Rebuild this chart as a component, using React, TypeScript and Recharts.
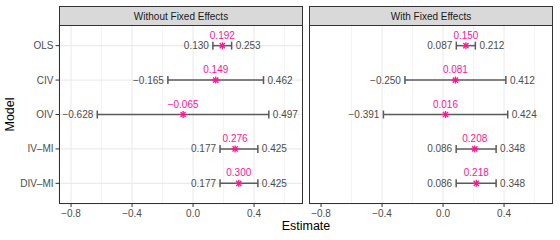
import React from 'react';
import { ScatterChart, Scatter, XAxis, YAxis, CartesianGrid, ErrorBar, ReferenceLine } from 'recharts';

const models = ['OLS', 'CIV', 'OIV', 'IV–MI', 'DIV–MI'];

const estNoFE = [0.192, 0.149, -0.065, 0.276, 0.3];
const lowNoFE = [0.13, -0.165, -0.628, 0.177, 0.177];
const highNoFE = [0.253, 0.462, 0.497, 0.425, 0.425];

const estFE = [0.15, 0.081, 0.016, 0.208, 0.218];
const lowFE = [0.087, -0.25, -0.391, 0.086, 0.086];
const highFE = [0.212, 0.412, 0.424, 0.348, 0.348];

const xTicks = [-0.8, -0.4, 0, 0.4];
const xMinor = [-0.6, -0.2, 0.2, 0.6];
const yTicks = [1, 2, 3, 4, 5];

const FONT = '"Liberation Sans", Arial, Helvetica, sans-serif';
const PINK = '#ff1493';
const BAR = '#5a5a5a';
const TXT = '#4d4d4d';
const FS = 10;

// layout (px)
const STRIP_TOP = 6;
const PANEL_TOP = 25;
const PANEL_BOTTOM = 204;
const LEFT_X = 59;
const RIGHT_X = 309;
const PANEL_W = 244;

const fmt = (v: number, d = 3) => v.toFixed(d).replace('-', '−');

const Asterisk = (props: any) => {
  const { cx, cy } = props;
  const r = 3.5;
  const d = 2.6;
  return (
    <g stroke={PINK} strokeWidth={1.3}>
      <line x1={cx - r} y1={cy} x2={cx + r} y2={cy} />
      <line x1={cx} y1={cy - r} x2={cx} y2={cy + r} />
      <line x1={cx - d} y1={cy - d} x2={cx + d} y2={cy + d} />
      <line x1={cx - d} y1={cy + d} x2={cx + d} y2={cy - d} />
      <text x={cx} y={cy - 7} textAnchor="middle" fill={PINK} stroke="none" fontSize={FS} fontFamily={FONT}>
        {fmt(props.payload.x)}
      </text>
    </g>
  );
};

const LowLabel = (props: any) => (
  <text x={props.cx - 4} y={props.cy} dy="0.35em" textAnchor="end" fill={TXT} fontSize={FS} fontFamily={FONT}>
    {fmt(props.payload.x)}
  </text>
);

const HighLabel = (props: any) => (
  <text x={props.cx + 4} y={props.cy} dy="0.35em" textAnchor="start" fill={TXT} fontSize={FS} fontFamily={FONT}>
    {fmt(props.payload.x)}
  </text>
);

const Panel = ({ est, low, high, showY }: { est: number[]; low: number[]; high: number[]; showY: boolean }) => {
  const estPts = est.map((v, i) => ({ x: v, y: i + 1, err: [v - low[i], high[i] - v] }));
  const lowPts = low.map((v, i) => ({ x: v, y: i + 1 }));
  const highPts = high.map((v, i) => ({ x: v, y: i + 1 }));
  return (
    <ScatterChart
      width={showY ? LEFT_X + PANEL_W : PANEL_W}
      height={240}
      margin={{ top: PANEL_TOP, right: 0, bottom: 0, left: 0 }}
    >
      <CartesianGrid stroke="#ebebeb" strokeWidth={1.1} />
      {xMinor.map((m) => (
        <ReferenceLine key={m} x={m} stroke="#ebebeb" strokeWidth={0.6} />
      ))}
      <XAxis
        type="number"
        dataKey="x"
        domain={[-0.879, 0.721]}
        allowDataOverflow
        ticks={xTicks}
        tickFormatter={(v: number) => fmt(v, 1)}
        height={240 - PANEL_BOTTOM}
        axisLine={false}
        tickLine={{ stroke: '#333' }}
        tickSize={3}
        tickMargin={2.5}
        tick={{ fill: TXT, fontSize: FS, fontFamily: FONT }}
      />
      <YAxis
        type="number"
        dataKey="y"
        domain={[0.4, 5.6]}
        reversed
        ticks={yTicks}
        interval={0}
        tickFormatter={(v: number) => models[v - 1] ?? ''}
        width={showY ? LEFT_X : 0}
        axisLine={false}
        tickLine={showY ? { stroke: '#333' } : false}
        tick={showY ? { fill: TXT, fontSize: FS, fontFamily: FONT } : false}
        tickSize={3.5}
        tickMargin={2}
      />
      <Scatter data={lowPts} shape={LowLabel} isAnimationActive={false} />
      <Scatter data={highPts} shape={HighLabel} isAnimationActive={false} />
      <Scatter data={estPts} shape={Asterisk} isAnimationActive={false}>
        <ErrorBar dataKey="err" direction="x" width={4} stroke={BAR} strokeWidth={1.5} />
      </Scatter>
    </ScatterChart>
  );
};

export default function App() {
  const stripH = PANEL_TOP - STRIP_TOP;
  const panelH = PANEL_BOTTOM - PANEL_TOP;
  return (
    <div style={{ position: 'absolute', left: 0, top: 0, width: 560, height: 240, background: '#fff', overflow: 'hidden' }}>
      <div style={{ position: 'absolute', left: 0, top: 0 }}>
        <Panel est={estNoFE} low={lowNoFE} high={highNoFE} showY />
      </div>
      <div style={{ position: 'absolute', left: RIGHT_X, top: 0 }}>
        <Panel est={estFE} low={lowFE} high={highFE} showY={false} />
      </div>
      <svg width={560} height={240} style={{ position: 'absolute', left: 0, top: 0, pointerEvents: 'none' }}>
        {[LEFT_X, RIGHT_X].map((x, i) => (
          <g key={x}>
            <rect x={x + 0.5} y={STRIP_TOP + 0.5} width={PANEL_W - 1} height={stripH} fill="#d9d9d9" stroke="#333" strokeWidth={1} />
            <text x={x + PANEL_W / 2} y={STRIP_TOP + stripH / 2 + 0.5} dy="0.35em" textAnchor="middle" fill="#1a1a1a" fontSize={FS} fontFamily={FONT}>
              {i === 0 ? 'Without Fixed Effects' : 'With Fixed Effects'}
            </text>
            <rect x={x + 0.5} y={PANEL_TOP + 0.5} width={PANEL_W - 1} height={panelH - 1} fill="none" stroke="#333" strokeWidth={1} />
          </g>
        ))}
        <text x={(LEFT_X + RIGHT_X + PANEL_W) / 2} y={226} dy="0.35em" textAnchor="middle" fill="#000" fontSize={12.5} fontFamily={FONT}>
          Estimate
        </text>
        <text
          transform={`translate(10, ${(PANEL_TOP + PANEL_BOTTOM) / 2}) rotate(-90)`}
          dy="0.35em"
          textAnchor="middle"
          fill="#000"
          fontSize={12.5}
          fontFamily={FONT}
        >
          Model
        </text>
      </svg>
    </div>
  );
}
